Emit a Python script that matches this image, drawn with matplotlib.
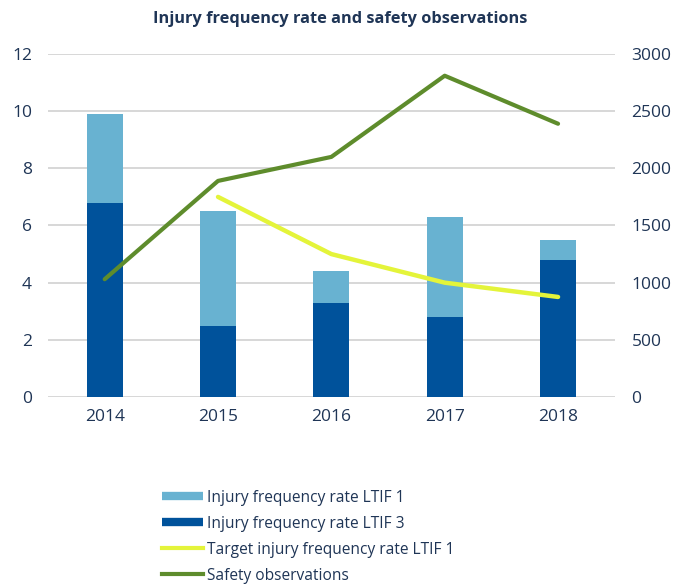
import matplotlib
matplotlib.use("Agg")
import matplotlib.pyplot as plt
from matplotlib.lines import Line2D
import numpy as np

plt.rcParams['font.family'] = ['Open Sans', 'DejaVu Sans']

years = ['2014', '2015', '2016', '2017', '2018']
ltif1 = [9.9, 6.5, 4.4, 6.3, 5.5]
ltif3 = [6.8, 2.5, 3.3, 2.8, 4.8]
target_years = ['2015', '2016', '2017', '2018']
target_ltif1 = [7.0, 5.0, 4.0, 3.5]
safety_obs = [1030, 1890, 2100, 2810, 2390]

LIGHT = '#68b2d1'
DARK = '#00529b'
YELLOW = '#e4f43a'
GREEN = '#5e8c2c'
NAVY = '#1f3556'
GRID = '#d4d4d4'

fig = plt.figure(figsize=(6.8, 5.87), dpi=100)
ax = fig.add_axes([0.0706, 0.3237, 0.8334, 0.5843])
ax2 = ax.twinx()

x = np.arange(len(years))
tx = np.array([years.index(y) for y in target_years])
w = 0.32

ax.bar(x, ltif1, w, color=LIGHT, zorder=2)
ax.bar(x, ltif3, w, color=DARK, zorder=3)
ax.plot(tx, target_ltif1, color=YELLOW, lw=3.2, zorder=4, solid_capstyle='round')
ax2.plot(x, safety_obs, color=GREEN, lw=3, zorder=5, solid_capstyle='round')

ax.set_xlim(-0.5, 4.5)
ax.set_ylim(0, 12)
ax.set_yticks(range(0, 13, 2))
ax2.set_ylim(0, 3000)
ax2.set_yticks(range(0, 3001, 500))
ax.set_xticks(x)
ax.set_xticklabels(years)
ax.yaxis.grid(True, color=GRID, lw=1.3, zorder=0)
ax.set_axisbelow(True)

for a in (ax, ax2):
    for s in a.spines.values():
        s.set_visible(False)
    a.tick_params(length=0, labelsize=12.5, colors=NAVY)
ax.tick_params(axis='y', pad=11.5)
ax.tick_params(axis='x', pad=9)
ax2.tick_params(axis='y', pad=12)
ax.set_zorder(ax2.get_zorder() - 1)
ax.patch.set_visible(True)
ax2.patch.set_visible(False)

fig.text(0.5, 0.967, 'Injury frequency rate and safety observations',
         ha='center', va='center', fontsize=11.8, fontweight='bold', color=NAVY)

handles = [
    Line2D([], [], color=LIGHT, lw=6, solid_capstyle='butt'),
    Line2D([], [], color=DARK, lw=6, solid_capstyle='butt'),
    Line2D([], [], color=YELLOW, lw=3),
    Line2D([], [], color=GREEN, lw=3),
]
labels = ['Injury frequency rate LTIF 1', 'Injury frequency rate LTIF 3',
          'Target injury frequency rate LTIF 1', 'Safety observations']
leg = fig.legend(handles, labels, loc='upper left', bbox_to_anchor=(0.238, 0.166),
                 frameon=False, fontsize=11.2, handlelength=2.63, handletextpad=0.3,
                 labelspacing=0.65, borderaxespad=0, borderpad=0)
for t in leg.get_texts():
    t.set_color(NAVY)

fig.savefig('out.png', dpi=100)
